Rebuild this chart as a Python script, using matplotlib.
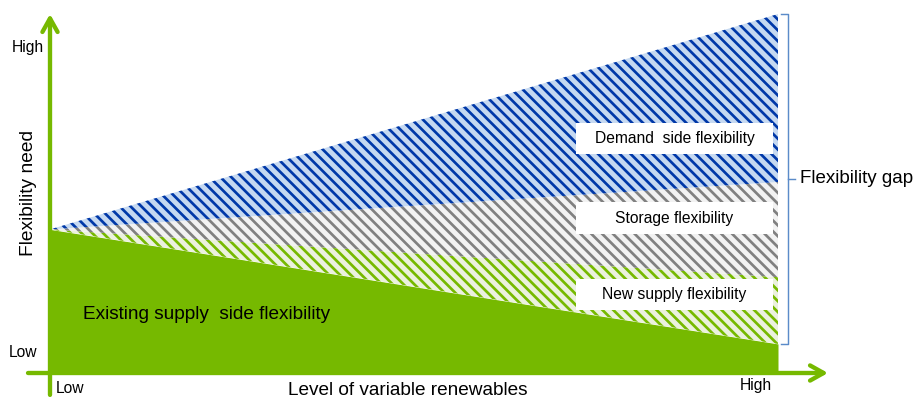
import matplotlib
matplotlib.use("Agg")
import numpy as np
import matplotlib.pyplot as plt
from matplotlib.patches import Rectangle

plt.rcParams['font.family'] = ['Liberation Sans', 'DejaVu Sans']
plt.rcParams['hatch.linewidth'] = 1.5

# Level of variable renewables: low -> high
level = [0, 1]
level_labels = ['Low', 'High']

# Flexibility contributions (stacked), in % of the top of the chart
existing_supply = [40.0, 8.1]
new_supply = [0.0, 18.6]
storage = [0.0, 26.5]
demand_side = [0.0, 46.8]

layer_names = ['New supply flexibility', 'Storage flexibility', 'Demand  side flexibility']
label_boxes = [(17.5, 26.2), (38.7, 47.6), (61.0, 69.6)]

green = '#76b900'
line_cols = [green, '#808080', '#0038a8']
back_cols = ['#ebf1de', '#f2f2f2', '#c6d9f1']

fig = plt.figure(figsize=(917 / 130, 399 / 130), dpi=130)
ax = fig.add_axes([0, 0, 1, 1])
ax.set_xlim(-50 / 728, 867 / 728)
ax.set_ylim(-26 / 3.59, 373 / 3.59)
ax.axis('off')

x = np.array(level)
base = np.array(existing_supply)
ax.fill_between(x, 0, base, color=green, linewidth=0, zorder=1)

for vals, lc, bc in zip([new_supply, storage, demand_side], line_cols, back_cols):
    top = base + np.array(vals)
    ax.fill_between(x, base, top, facecolor=bc, edgecolor=lc, hatch='\\\\\\\\',
                    linewidth=0, zorder=1)
    base = top

# white label boxes on the right side of the wedge
bx0, bx1 = 0.7225, 0.9931
for name, (y0, y1) in zip(layer_names, label_boxes):
    ax.add_patch(Rectangle((bx0, y0), bx1 - bx0, y1 - y0, facecolor='white',
                           edgecolor='none', zorder=2))
    ax.text((bx0 + bx1) / 2, (y0 + y1) / 2, name, ha='center', va='center',
            fontsize=8.7, zorder=3)

ax.text(0.0453, 16.4, 'Existing supply  side flexibility', ha='left', va='center',
        fontsize=10.5, zorder=3)

# brace around the flexibility gap
gap_lo = existing_supply[1]
gap_hi = base[1]
gap_mid = (gap_lo + gap_hi) / 2
brace_col = '#5b8bc9'
ax.plot([1.0041, 1.0137, 1.0137, 1.0041], [gap_hi, gap_hi, gap_lo, gap_lo],
        color=brace_col, lw=0.8, solid_joinstyle='round', zorder=3)
ax.plot([1.0137, 1.0234], [gap_mid, gap_mid], color=brace_col, lw=0.8, zorder=3)
ax.text(1.0302, gap_mid, 'Flexibility gap', ha='left', va='center', fontsize=10.4)

# axes as thick green arrows
arrow = dict(arrowstyle='->,head_length=0.75,head_width=0.42', lw=2.4,
             color=green, shrinkA=0, shrinkB=0)
ax.annotate('', xy=(0, 100), xytext=(0, -6.1), arrowprops=arrow, zorder=4)
ax.annotate('', xy=(1.0687, 0), xytext=(-0.0302, 0), arrowprops=arrow, zorder=4)

ax.text(-0.0082, 90.8, level_labels[1], ha='right', va='center', fontsize=8.7)
ax.text(-0.0179, 5.6, level_labels[0], ha='right', va='center', fontsize=8.7)
ax.text(level[0] + 0.0082, -4.2, level_labels[0], ha='left', va='center', fontsize=8.7)
ax.text(level[1] - 0.0082, -3.6, level_labels[1], ha='right', va='center', fontsize=8.7)

ax.text(-0.0302, 50.1, 'Flexibility need', rotation=90, ha='center', va='center',
        fontsize=10.6)
ax.text(0.4918, -5.0, 'Level of variable renewables', ha='center', va='center',
        fontsize=10.5)

fig.savefig('out.png', dpi=130)
